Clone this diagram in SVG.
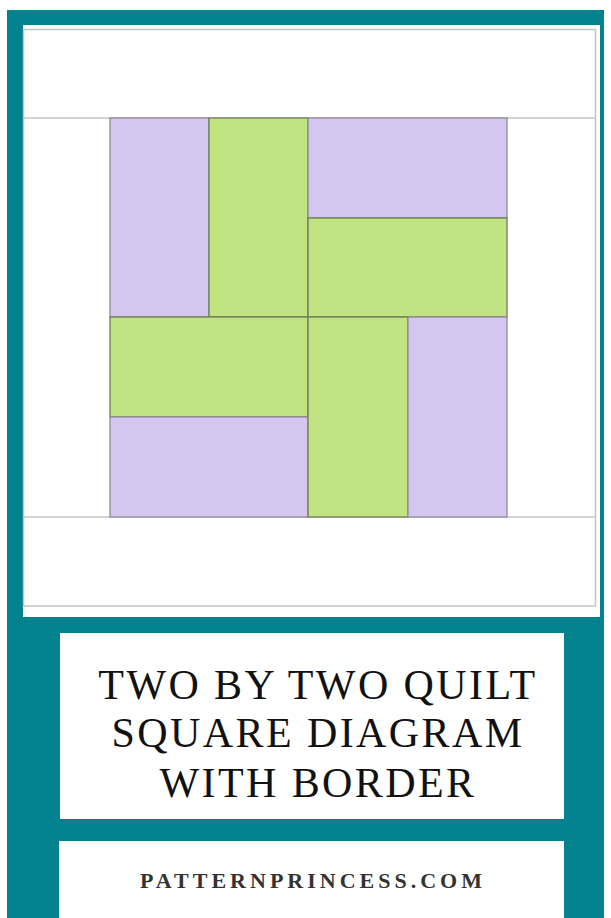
<svg xmlns="http://www.w3.org/2000/svg" width="611" height="918" viewBox="0 0 611 918">
<style>
.teal{fill:#02818f}
.panel{fill:#ffffff}
.border{fill:none;stroke:#c4c4c4;stroke-width:1.5}
.p{fill:#d4c6ee;stroke:#8f8a98;stroke-width:1.3}
.g{fill:#c2e381;stroke:#6f7c5a;stroke-width:1.3}
.title{font-family:"Liberation Serif","DejaVu Serif",serif;font-size:42px;letter-spacing:2.4px;fill:#111;text-anchor:middle}
.site{font-family:"Liberation Serif","DejaVu Serif",serif;font-size:22px;font-weight:bold;letter-spacing:4px;fill:#333;text-anchor:middle}
</style>
<rect x="0" y="0" width="611" height="918" fill="#ffffff"/>
<rect class="teal" x="7" y="10" width="597" height="908"/>
<g id="quilt-panel">
<rect class="panel" x="23" y="25" width="577" height="592"/>
<rect class="border" x="23.5" y="29.5" width="572" height="576.5"/>
<line class="border" x1="23" y1="118" x2="595" y2="118"/>
<line class="border" x1="23" y1="517" x2="595" y2="517"/>
</g>
<g id="block">
<rect id="p1" class="p" x="110" y="118" width="99" height="199"/>
<rect id="g1" class="g" x="209" y="118" width="99" height="199"/>
<rect id="p2" class="p" x="308" y="118" width="199" height="100"/>
<rect id="g2" class="g" x="308" y="218" width="199" height="99"/>
<rect id="g3" class="g" x="110" y="317" width="198" height="100"/>
<rect id="p3" class="p" x="110" y="417" width="198" height="100"/>
<rect id="g4" class="g" x="308" y="317" width="100" height="200"/>
<rect id="p4" class="p" x="408" y="317" width="99" height="200"/>
</g>
<g id="title-box">
<rect class="panel" x="60" y="633" width="504" height="186"/>
<text class="title" x="318" y="699">TWO BY TWO QUILT</text>
<text class="title" x="318" y="747">SQUARE DIAGRAM</text>
<text class="title" x="318" y="797">WITH BORDER</text>
</g>
<g id="site-box">
<rect class="panel" x="59" y="841" width="505" height="77"/>
<text class="site" x="313" y="888">PATTERNPRINCESS.COM</text>
</g>
<g id="connectors"/>
</svg>
